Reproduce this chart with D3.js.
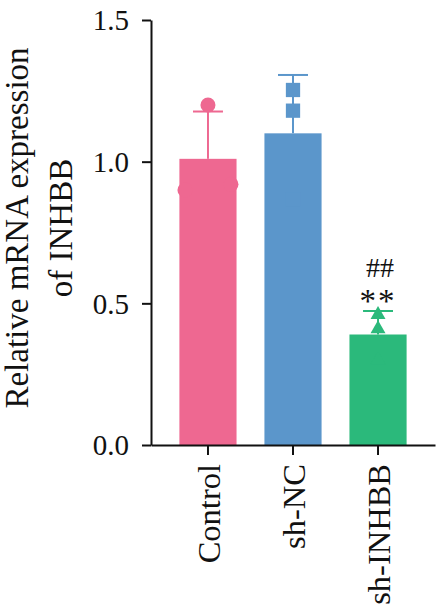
<!DOCTYPE html>
<html>
<head>
<meta charset="utf-8">
<script src="https://cdn.jsdelivr.net/npm/d3@7"></script>
<style>
  body { margin: 0; background: #fff; }
  svg { display: block; }
  text { font-family: "Liberation Serif", "Times New Roman", serif; fill: #111; }
</style>
</head>
<body>
<div id="chart"></div>
<script>
const categories = ["Control", "sh-NC", "sh-INHBB"];
const means = [1.01, 1.10, 0.39];
const sds = [0.167, 0.206, 0.083];
const controlPoints = [0.90, 1.20, 0.92];
const shNCPoints = [0.867, 1.253, 1.18];
const shINHBBPoints = [0.46, 0.41, 0.30];
const marks = ["", "", "**"];
const marks2 = ["", "", "##"];
const yTicks = [0, 0.5, 1.0, 1.5];

const colors = ["#ee6891", "#5b96cb", "#2bb97b"];
const shapes = [d3.symbolCircle, d3.symbolSquare, d3.symbolTriangle];
const shapeSizes = [177, 204, 97];
const allPoints = [controlPoints, shNCPoints, shINHBBPoints];

const w = 436;
const h = 608;

const svg = d3.select("#chart")
    .append("svg")
    .attr("width", w)
    .attr("height", h);

const x = d3.scaleBand()
    .domain(categories)
    .range([151, 435])
    .paddingInner(0.328)
    .paddingOuter(0.334);

const y = d3.scaleLinear()
    .domain([0, 1.5])
    .range([445, 20]);

// bars
svg.selectAll(".bar")
    .data(categories)
    .enter()
    .append("rect")
    .attr("class", "bar")
    .attr("x", d => x(d))
    .attr("y", (d, i) => y(means[i]))
    .attr("width", x.bandwidth())
    .attr("height", (d, i) => y(0) - y(means[i]))
    .attr("fill", (d, i) => colors[i]);

// error bars (upper only)
const cap = 15;
categories.forEach((c, i) => {
    const cx = x(c) + x.bandwidth() / 2;
    const g = svg.append("g")
        .attr("stroke", colors[i])
        .attr("stroke-width", 2);
    g.append("line")
        .attr("x1", cx).attr("x2", cx)
        .attr("y1", y(means[i])).attr("y2", y(means[i] + sds[i]));
    g.append("line")
        .attr("x1", cx - cap).attr("x2", cx + cap)
        .attr("y1", y(means[i] + sds[i])).attr("y2", y(means[i] + sds[i]));
});

// individual points, spread sideways when they would overlap
categories.forEach((c, i) => {
    const cx = x(c) + x.bandwidth() / 2;
    const pts = allPoints[i];
    const offs = pts.map((v, j) => {
        const partner = pts.findIndex((u, k) => k !== j && Math.abs(y(u) - y(v)) < 10);
        if (partner < 0) return 0;
        return v < pts[partner] ? -23 : 23;
    });
    svg.selectAll(".pt" + i)
        .data(pts)
        .enter()
        .append("path")
        .attr("class", "pt" + i)
        .attr("d", d3.symbol().type(shapes[i]).size(shapeSizes[i]))
        .attr("transform", (d, j) => "translate(" + (cx + offs[j]) + "," + y(d) + ")")
        .attr("fill", colors[i]);
});

// significance marks
categories.forEach((c, i) => {
    const cx = x(c) + x.bandwidth() / 2;
    const top = y(means[i] + sds[i]);
    svg.append("text")
        .attr("x", cx)
        .attr("y", top + 1)
        .attr("text-anchor", "middle")
        .attr("letter-spacing", 2)
        .style("font-size", "33px")
        .text(marks[i]);
    svg.append("text")
        .attr("x", cx + 2)
        .attr("y", top - 34)
        .attr("text-anchor", "middle")
        .style("font-size", "28px")
        .text(marks2[i]);
});

// axes
const yAxis = d3.axisLeft(y)
    .tickValues(yTicks)
    .tickFormat(d3.format(".1f"))
    .tickSize(9)
    .tickSizeOuter(0)
    .tickPadding(13);

const gy = svg.append("g")
    .attr("transform", "translate(151,0)")
    .call(yAxis);

gy.selectAll("path, line").attr("stroke", "#111").attr("stroke-width", 2);
gy.selectAll("text")
    .style("font-size", "29px")
    .attr("dy", "0.34em");

const xAxis = d3.axisBottom(x)
    .tickSize(10)
    .tickSizeOuter(0);

const gx = svg.append("g")
    .attr("transform", "translate(0,445)")
    .call(xAxis);

gx.selectAll("path, line").attr("stroke", "#111").attr("stroke-width", 2);
gx.selectAll("text")
    .style("font-size", "32.5px")
    .attr("text-anchor", "end")
    .attr("transform", "rotate(-90)")
    .attr("x", -19)
    .attr("y", 0)
    .attr("dy", "0.37em");

gy.attr("font-family", null);
gx.attr("font-family", null);

// y title
const title = svg.append("text")
    .attr("transform", "rotate(-90)")
    .attr("text-anchor", "middle")
    .style("font-size", "33px");
title.append("tspan").attr("x", -228).attr("y", 28).text("Relative mRNA expression");
title.append("tspan").attr("x", -228).attr("y", 72).text("of INHBB");
</script>
</body>
</html>
